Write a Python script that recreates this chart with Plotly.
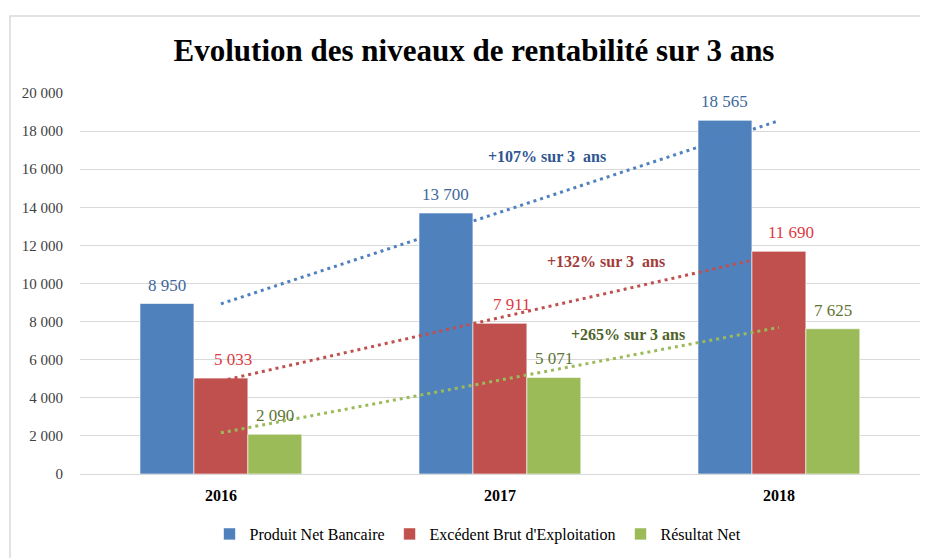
import numpy as np
import plotly.graph_objects as go

years = ["2016", "2017", "2018"]
series_names = ["Produit Net Bancaire", "Excédent Brut d'Exploitation", "Résultat Net"]
pnb = [8950, 13700, 18565]
ebe = [5033, 7911, 11690]
rn = [2090, 5071, 7625]
growth_labels = ["+107% sur 3  ans", "+132% sur 3  ans", "+265% sur 3 ans"]
y_ticks = [0, 2000, 4000, 6000, 8000, 10000, 12000, 14000, 16000, 18000, 20000]

values = [pnb, ebe, rn]
bar_colors = ["#4F81BD", "#C0504D", "#9BBB59"]
label_colors = ["#40689C", "#DD3A3F", "#5E7532"]
ann_colors = ["#2F5592", "#A33B38", "#4F6228"]
ann_pos = [(1.17, 16650), (1.38, 11150), (1.46, 7330)]
label_xshift = [0, 12, 0]

FONT = "Liberation Serif, Times New Roman, serif"
x = np.arange(len(years))
bargap = 0.42
bw = (1 - bargap) / 3

fig = go.Figure()
for k, (name, vals) in enumerate(zip(series_names, values)):
    fig.add_trace(go.Bar(
        x=x, y=vals, name=name,
        marker=dict(color=bar_colors[k], line=dict(color="rgba(255,255,255,0.6)", width=1)),
        hoverinfo="y+name",
    ))

# linear trendlines (fitted on data)
for k, vals in enumerate(values):
    coef = np.polyfit(x, vals, 1)
    fig.add_trace(go.Scatter(
        x=x, y=np.polyval(coef, x), mode="lines", showlegend=False,
        line=dict(color=bar_colors[k], width=3, dash="3px,4px"),
        hoverinfo="skip",
    ))

annotations = []
for k, vals in enumerate(values):
    for i, v in enumerate(vals):
        annotations.append(dict(
            x=i + (k - 1) * bw, y=v, xref="x", yref="y",
            text=f"{v:,}".replace(",", " "), showarrow=False,
            yanchor="bottom", yshift=7, xshift=label_xshift[k],
            font=dict(family=FONT, size=17, color=label_colors[k]),
        ))
for k, txt in enumerate(growth_labels):
    annotations.append(dict(
        x=ann_pos[k][0], y=ann_pos[k][1], xref="x", yref="y",
        text=f"<b>{txt}</b>", showarrow=False,
        font=dict(family=FONT, size=16, color=ann_colors[k]),
    ))

L, T, B, R = 72, 85, 92, 0
PW, PH = 928 - L - R, 558 - T - B
CAT_PX = 279

fig.update_layout(
    width=928, height=558,
    margin=dict(l=L, r=R, t=T, b=B),
    paper_bgcolor="white", plot_bgcolor="white",
    barmode="group", bargap=bargap, bargroupgap=0,
    separators=". ",
    title=dict(text="<b>Evolution des niveaux de rentabilité sur 3 ans</b>",
               x=(466 - L) / PW, xref="paper", xanchor="center",
               y=1 - 42 / 558, yref="container", yanchor="middle",
               font=dict(family=FONT, size=31, color="#000000")),
    xaxis=dict(range=[-0.505, -0.505 + PW / CAT_PX], tickvals=list(x),
               ticktext=[f"<b>{y}</b>" for y in years],
               showgrid=False, zeroline=False, showline=False, ticks="",
               ticklabelstandoff=10,
               tickfont=dict(family=FONT, size=16, color="#000000")),
    yaxis=dict(range=[0, 20000], tickvals=y_ticks, tickformat=",d",
               showgrid=True, gridcolor="#D9D9D9", gridwidth=1,
               zeroline=True, zerolinecolor="#D9D9D9", zerolinewidth=1,
               showline=False, ticks="", ticklabelstandoff=16,
               tickfont=dict(family=FONT, size=15, color="#404040")),
    legend=dict(orientation="h", x=(470 - L) / PW, xanchor="center",
                y=-(526 - (T + PH)) / PH, yanchor="middle",
                font=dict(family=FONT, size=16, color="#000000"),
                itemwidth=30, traceorder="normal"),
    annotations=annotations,
    shapes=[dict(type="rect", xref="paper", yref="paper",
                 x0=(2 - L) / PW, x1=1.2, y0=-0.5, y1=1 + (T - 8) / PH,
                 line=dict(color="#D9D9D9", width=1.5), layer="below")],
)

fig.write_html("out.html")
